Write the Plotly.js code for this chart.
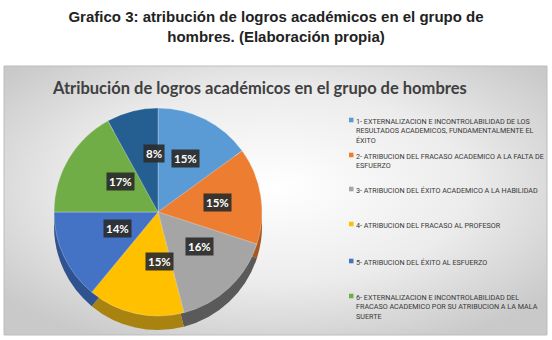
<!DOCTYPE html>
<html>
<head>
<meta charset="utf-8">
<script src="https://cdn.plot.ly/plotly-3.0.1.min.js"></script>
<style>html,body{margin:0;padding:0;background:#fff}#chart{width:552px;height:340px}</style>
</head>
<body>
<div id="chart"></div>
<script>
// ---- data ----
const sliceLabels = ["1", "2", "3", "4", "5", "6", "7"];
const sliceValues = [15, 15, 16, 15, 14, 17, 8];
const sliceText = ["15%", "15%", "16%", "15%", "14%", "17%", "8%"];
const sliceColors = ["#5B9BD5", "#ED7D31", "#A5A5A5", "#FFC000", "#4472C4", "#70AD47", "#255E91"];
const sideColors = ["#3E6F9E", "#A9561F", "#5A5A5A", "#A98310", "#2F5291", "#4E7C31", "#1A4468"];
const legendLabels = [
  "1- EXTERNALIZACION E INCONTROLABILIDAD DE LOS<br>RESULTADOS ACADEMICOS, FUNDAMENTALMENTE EL<br>ÉXITO",
  "2- ATRIBUCION DEL FRACASO ACADEMICO A LA FALTA DE<br>ESFUERZO",
  "3- ATRIBUCION DEL ÉXITO ACADEMICO A LA HABILIDAD",
  "4- ATRIBUCION DEL FRACASO AL PROFESOR",
  "5- ATRIBUCION DEL ÉXITO AL ESFUERZO",
  "6- EXTERNALIZACION E INCONTROLABILIDAD DEL<br>FRACASO ACADEMICO POR SU ATRIBUCION A LA MALA<br>SUERTE"
];
const mainTitle = "<b>Grafico 3: atribución de logros académicos en el grupo de<br>hombres. (Elaboración propia)</b>";
const chartTitle = "<b>Atribución de logros académicos en el grupo de hombres</b>";

// ---- layout helpers ----
const W = 552, H = 340;
const px = x => x / W;
const py = y => 1 - y / H;
const cx = 158, cy = 212, R = 104, depth = 14;

const bgSvg = '<svg xmlns="http://www.w3.org/2000/svg" width="543" height="269" viewBox="0 0 543 269">' +
  '<defs><radialGradient id="g" cx="50%" cy="45%" r="65%">' +
  '<stop offset="0" stop-color="#ffffff"/><stop offset="0.55" stop-color="#ececec"/><stop offset="1" stop-color="#c9c9c9"/>' +
  '</radialGradient></defs><rect width="543" height="269" fill="url(#g)"/></svg>';
const bgUri = 'data:image/svg+xml;base64,' + btoa(bgSvg);

const sideTrace = {
  type: 'pie', values: sliceValues, labels: sliceLabels, sort: false, direction: 'clockwise', rotation: 0,
  marker: {colors: sideColors, line: {width: 0}}, textinfo: 'none', hoverinfo: 'skip', showlegend: false,
  domain: {x: [px(cx - R), px(cx + R)], y: [py(cy + R + depth), py(cy - R + depth)]}
};
const topTrace = {
  type: 'pie', values: sliceValues, labels: sliceLabels, sort: false, direction: 'clockwise', rotation: 0,
  marker: {colors: sliceColors, line: {width: 0.6, color: 'rgba(255,255,255,0.45)'}}, textinfo: 'none', showlegend: false,
  domain: {x: [px(cx - R), px(cx + R)], y: [py(cy + R), py(cy - R)]}
};

// percentage labels placed at slice mid-angles
const total = sliceValues.reduce((a, b) => a + b, 0);
const annotations = [];
let acc = 0;
sliceValues.forEach((v, i) => {
  const mid = (acc + v / 2) / total * 2 * Math.PI;
  acc += v;
  const k = 0.58;
  annotations.push({
    xref: 'paper', yref: 'paper', x: px(cx + R * k * Math.sin(mid)), y: py(cy - R * k * Math.cos(mid)),
    text: '<b>' + sliceText[i] + '</b>', showarrow: false, bgcolor: 'rgba(45,45,45,0.92)', borderpad: 2,
    font: {family: 'Lato, sans-serif', size: 11.5, color: '#ffffff'}
  });
});
annotations.push({
  xref: 'paper', yref: 'paper', x: px(50), y: py(88), xanchor: 'left', yanchor: 'middle', showarrow: false,
  text: chartTitle, font: {family: 'Lato, sans-serif', size: 16.5, color: '#404040'}
});
const legendY = [120, 155, 189, 224, 261, 296];
const shapes = [];
legendLabels.forEach((t, i) => {
  annotations.push({
    xref: 'paper', yref: 'paper', x: px(354), y: py(legendY[i] - 5), xanchor: 'left', yanchor: 'top', align: 'left',
    showarrow: false, text: t, font: {family: 'Roboto, sans-serif', size: 7.2, color: '#383838'}
  });
  shapes.push({type: 'rect', xref: 'paper', yref: 'paper', x0: px(349), x1: px(353.5), y0: py(legendY[i] + 2.3), y1: py(legendY[i] - 2.3),
    fillcolor: sliceColors[i], line: {width: 0}});
});
shapes.push({type: 'rect', xref: 'paper', yref: 'paper', x0: px(4), x1: px(547), y0: py(335), y1: py(66),
  line: {color: '#bdbdbd', width: 1}, fillcolor: 'rgba(0,0,0,0)', layer: 'below'});

const layout = {
  width: W, height: H, margin: {l: 0, r: 0, t: 0, b: 0},
  paper_bgcolor: '#ffffff', plot_bgcolor: '#ffffff', showlegend: false,
  title: {text: mainTitle, x: 0.5, xanchor: 'center', y: py(22), yanchor: 'middle',
    font: {family: 'Liberation Sans, Arial, sans-serif', size: 15, color: '#222222'}},
  images: [{source: bgUri, xref: 'paper', yref: 'paper', x: px(4), y: py(66), sizex: 543 / W, sizey: 269 / H,
    xanchor: 'left', yanchor: 'top', sizing: 'stretch', layer: 'below'}],
  annotations: annotations, shapes: shapes
};
Plotly.newPlot('chart', [sideTrace, topTrace], layout, {displayModeBar: false, staticPlot: true});
</script>
</body>
</html>
